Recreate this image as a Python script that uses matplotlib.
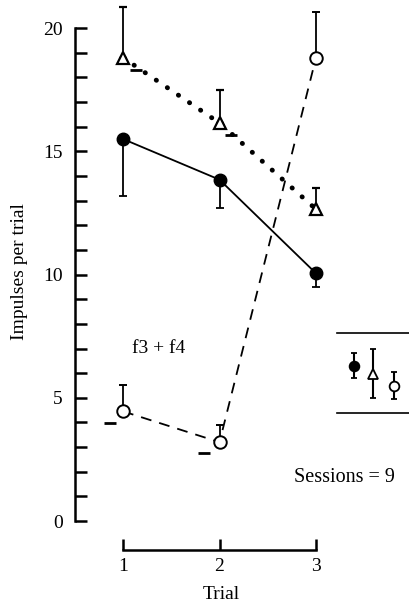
import matplotlib
matplotlib.use("Agg")
import matplotlib.pyplot as plt

plt.rcParams['font.family'] = ['Liberation Serif', 'DejaVu Serif']

trials = [1, 2, 3]

# filled circles (solid line), error bars downward
filled_y = [15.5, 13.85, 10.05]
filled_err = [2.3, 1.15, 0.55]

# open triangles (dotted line), error bars upward
tri_y = [18.8, 16.15, 12.65]
tri_err = [2.05, 1.35, 0.85]

# open circles (dashed line), error bars upward
open_y = [4.45, 3.2, 18.8]
open_err = [1.05, 0.7, 1.85]

# small dash marks beside some points
dash_x = [0.865, 1.84, 1.13, 2.12]
dash_y = [3.97, 2.76, 18.3, 15.66]

# inset (right side) values
inset_x = [3.39, 3.59, 3.81]
inset_y = [6.3, 5.96, 5.48]
inset_lo = [0.5, 0.96, 0.53]
inset_hi = [0.5, 1.04, 0.56]
inset_lines = [7.63, 4.38]

fig = plt.figure(figsize=(4.09, 6.11), dpi=100)
ax = fig.add_axes([0, 0, 1, 1])
ax.set_xlim(-0.275, 3.964)
ax.set_ylim(-3.65, 21.14)

k = 'black'
ax.plot(trials, filled_y, '-', color=k, lw=1.3)
ax.plot(trials, open_y, '--', color=k, lw=1.3, dashes=(6, 4.5))
ax.plot(trials, tri_y, color=k, lw=3.5, linestyle=(0, (0.05, 2.7)),
        dash_capstyle='round')

ax.errorbar(trials, filled_y, yerr=[filled_err, [0, 0, 0]], fmt='o', color=k,
            ms=9, elinewidth=1.3, capsize=3, capthick=1.3, zorder=5)
ax.errorbar(trials, tri_y, yerr=[[0, 0, 0], tri_err], fmt='^', color=k,
            mfc='white', mew=1.6, ms=9, elinewidth=1.3, capsize=3,
            capthick=1.3, zorder=5)
ax.errorbar(trials, open_y, yerr=[[0, 0, 0], open_err], fmt='o', color=k,
            mfc='white', mew=1.4, ms=9, elinewidth=1.3, capsize=3,
            capthick=1.3, zorder=5)

ax.plot(dash_x, dash_y, '_', color=k, ms=8, mew=2, ls='none')

# inset on the right
for yl in inset_lines:
    ax.plot([3.22, 3.97], [yl, yl], color=k, lw=1.2, clip_on=False)
fmts = [('o', k), ('^', 'white'), ('o', 'white')]
for xi, yi, lo, hi, (m, fc) in zip(inset_x, inset_y, inset_lo, inset_hi, fmts):
    ax.errorbar([xi], [yi], yerr=[[lo], [hi]], fmt=m, color=k, mfc=fc,
                mew=1.3, ms=7, elinewidth=1.5, capsize=2.5, capthick=1.3)

ax.text(1.37, 7.0, 'f3 + f4', fontsize=14, ha='center', va='center')
ax.text(3.30, 1.78, 'Sessions = 9', fontsize=14.5, ha='center', va='center')
ax.text(-0.078, 10.14, 'Impulses per trial', fontsize=14, rotation=90,
        ha='center', va='center')
ax.text(2.02, -3.0, 'Trial', fontsize=14, ha='center', va='center')

for s in ['top', 'right']:
    ax.spines[s].set_visible(False)
ax.spines['left'].set_position(('data', 0.503))
ax.spines['left'].set_bounds(0, 20)
ax.spines['bottom'].set_position(('data', -1.18))
ax.spines['bottom'].set_bounds(1, 3)
ax.spines['left'].set_linewidth(1.8)
ax.spines['bottom'].set_linewidth(1.8)

ax.set_yticks(range(0, 21))
ax.set_yticklabels([str(v) if v % 5 == 0 else '' for v in range(0, 21)])
ax.set_xticks(trials)
ax.set_xticklabels(['1', '2', '3'])
ax.tick_params(axis='y', direction='in', length=8.5, width=1.8, pad=9,
               labelsize=14)
ax.tick_params(axis='x', direction='in', length=8, width=1.8, pad=6,
               labelsize=14)
ax.patch.set_visible(False)

fig.savefig('out.png', dpi=100)
